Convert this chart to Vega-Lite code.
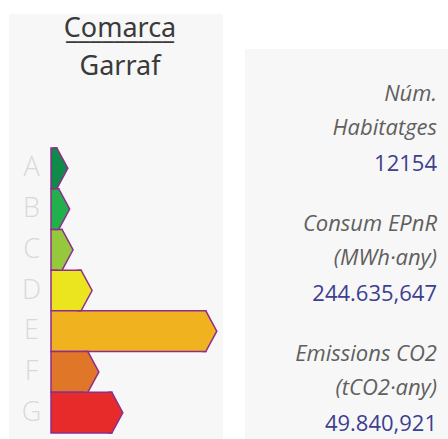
{
  "$schema": "https://vega.github.io/schema/vega-lite/v6.json",
  "padding": {"left": 9, "top": 14, "right": 0, "bottom": 0},
  "autosize": {"type": "pad"},
  "background": "white",
  "config": {"view": {"stroke": null}, "font": "Open Sans"},
  "spacing": 22,
  "hconcat": [
    {
      "width": 214,
      "height": 425,
      "view": {"fill": "#f7f7f7", "stroke": null},
      "title": {
        "text": ["Comarca", "_________"],
        "lineHeight": 2,
        "subtitle": "Garraf",
        "anchor": "middle",
        "frame": "group",
        "offset": -67,
        "dx": 4,
        "font": "Noto Sans",
        "subtitleFont": "Noto Sans",
        "fontSize": 27,
        "subtitleFontSize": 27,
        "fontWeight": "normal",
        "color": "#3a3a3a",
        "subtitleColor": "#3a3a3a",
        "subtitlePadding": 9
      },
      "data": {
        "values": [
          {"classe": "A", "percent": 1.9},
          {"classe": "B", "percent": 2.5},
          {"classe": "C", "percent": 3.6},
          {"classe": "D", "percent": 9.8},
          {"classe": "E", "percent": 50.4},
          {"classe": "F", "percent": 12.0},
          {"classe": "G", "percent": 19.8}
        ]
      },
      "encoding": {
        "y": {
          "field": "classe",
          "type": "nominal",
          "scale": {"domain": ["A", "B", "C", "D", "E", "F", "G"], "paddingInner": 0, "paddingOuter": 0, "range": [134, 419]},
          "axis": {
            "orient": "left",
            "offset": -22,
            "domain": false,
            "ticks": false,
            "tickSize": 0,
            "labelPadding": 0,
            "labelAlign": "center",
            "labelBaseline": "middle",
            "labelFont": "Open Sans",
            "labelFontSize": 27,
            "labelFontWeight": 300,
            "labelColor": "#d9d9d9",
            "title": null,
            "grid": false
          }
        },
        "x": {
          "field": "percent",
          "type": "quantitative",
          "scale": {"domain": [0, 56], "range": [42, 214], "nice": false},
          "axis": null
        },
        "color": {
          "field": "classe",
          "type": "nominal",
          "scale": {
            "domain": ["A", "B", "C", "D", "E", "F", "G"],
            "range": ["#0f8a48", "#21b04c", "#96c83d", "#ebe51f", "#f0b21f", "#e07627", "#e62b2a"]
          },
          "legend": null
        }
      },
      "layer": [
        {"mark": {"type": "bar", "stroke": "#8e2d8e", "strokeWidth": 1.5, "opacity": 1}},
        {
          "mark": {
            "type": "point",
            "shape": "M-0.2,-1L0,-1L0.54,0L0,1L-0.2,1",
            "size": 1657,
            "filled": true,
            "opacity": 1,
            "stroke": "#8e2d8e",
            "strokeWidth": 1.5
          }
        }
      ]
    },
    {
      "spacing": 0,
      "vconcat": [
        {
          "width": 203,
          "height": 35,
          "data": {"values": [{}]},
          "mark": {"type": "text", "text": ""}
        },
        {
          "width": 203,
          "height": 390,
          "view": {"fill": "#f7f7f7", "stroke": null},
          "data": {
            "values": [
              {"indicador": "Núm.\nHabitatges", "valor": "12154"},
              {"indicador": "Consum EPnR\n(MWh·any)", "valor": "244.635,647"},
              {"indicador": "Emissions CO2\n(tCO2·any)", "valor": "49.840,921"}
            ]
          },
          "encoding": {
            "y": {
              "field": "indicador",
              "type": "nominal",
              "sort": null,
              "scale": {"paddingInner": 0, "paddingOuter": 0.04},
              "axis": null
            }
          },
          "layer": [
            {
              "mark": {
                "type": "text",
                "align": "right",
                "baseline": "alphabetic",
                "lineBreak": "\n",
                "lineHeight": 34,
                "font": "Open Sans",
                "fontStyle": "italic",
                "fontSize": 22,
                "color": "#5f5f5f",
                "x": 192,
                "dy": -13
              },
              "encoding": {"text": {"field": "indicador"}}
            },
            {
              "mark": {
                "type": "text",
                "align": "right",
                "baseline": "alphabetic",
                "font": "Open Sans",
                "fontSize": 22,
                "color": "#3d3f8f",
                "x": 192,
                "dy": 57
              },
              "encoding": {"text": {"field": "valor"}}
            }
          ]
        }
      ]
    }
  ]
}
